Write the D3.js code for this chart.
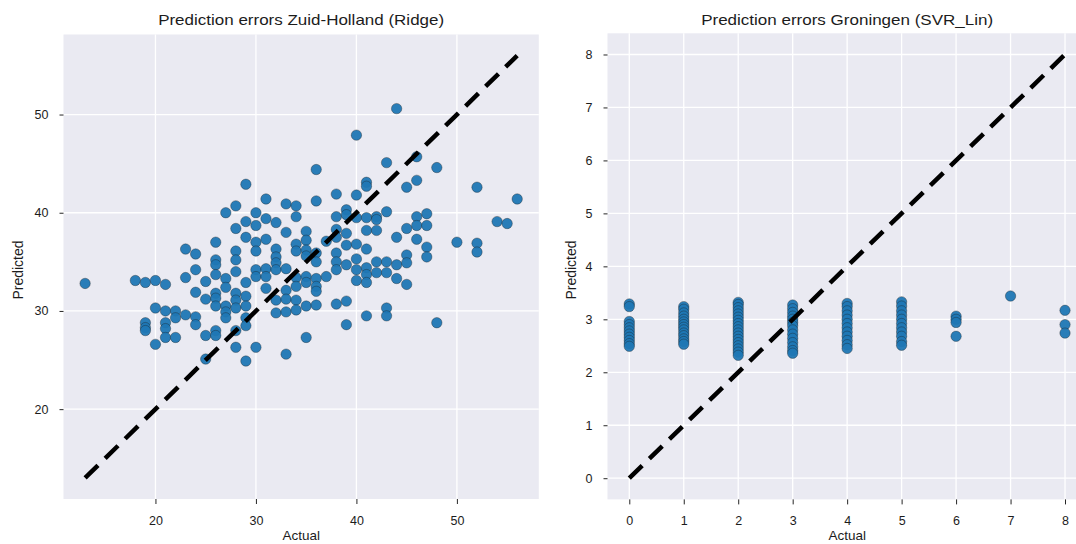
<!DOCTYPE html>
<html>
<head>
<meta charset="utf-8">
<script src="https://cdn.jsdelivr.net/npm/d3@7"></script>
<style>
  body { margin: 0; background: #fff; }
  text { font-family: "Liberation Sans", Arial, sans-serif; fill: #1c1c1c; }
</style>
</head>
<body>
<svg id="chart" width="1076" height="544"></svg>
<script>
// Zuid-Holland (Ridge): actual values and the predictions seen at each one
var zhActual = [13, 18, 19, 20, 21, 22, 23, 24, 25, 26, 27, 28, 29, 30, 31, 32, 33, 34,
                35, 36, 37, 38, 39, 40, 41, 42, 43, 44, 45, 46, 47, 48, 50, 52, 54, 55, 56];
var zhPredicted = [
  [32.8],
  [33.1],
  [32.9, 28.8, 28.3, 28.0],
  [33.1, 30.3, 26.6],
  [32.7, 30.0, 28.8, 28.2, 27.3],
  [30.0, 29.3, 27.3],
  [36.3, 33.4, 29.6],
  [35.8, 34.2, 31.9, 29.4, 28.6],
  [33.0, 31.2, 27.5, 25.1],
  [37.0, 35.2, 34.7, 33.7, 31.8, 31.3, 30.5, 28.0, 27.5],
  [40.0, 33.3, 32.4, 30.5, 29.9, 29.3],
  [40.7, 38.4, 36.1, 35.2, 34.0, 31.8, 31.1, 30.3, 28.0, 26.3],
  [42.9, 39.1, 37.5, 32.9, 31.5, 30.5, 29.3, 28.5, 24.9],
  [40.0, 38.7, 37.0, 36.1, 34.2, 33.5, 26.3],
  [41.4, 39.4, 37.3, 34.3, 33.5, 32.3],
  [39.0, 36.3, 35.5, 34.9, 34.2, 31.1, 29.8],
  [40.9, 38.0, 34.3, 32.1, 31.2, 29.9, 25.6],
  [40.7, 39.6, 36.8, 36.1, 33.4, 32.5, 31.1, 30.1],
  [38.1, 37.2, 36.2, 35.6, 33.5, 32.9, 30.5, 27.3],
  [44.4, 41.2, 35.9, 35.0, 33.3, 32.5, 32.0, 30.6],
  [37.1, 33.5],
  [41.9, 39.6, 38.3, 37.5, 35.9, 35.0, 34.2, 30.7],
  [40.3, 39.8, 37.9, 36.7, 34.7, 31.0, 28.6],
  [47.9, 41.8, 39.5, 36.8, 35.3, 34.2, 33.1],
  [43.1, 42.7, 39.5, 38.2, 36.3, 34.4, 33.7, 32.9, 29.5],
  [39.6, 39.3, 38.2, 35.0, 33.9],
  [45.1, 40.1, 35.0, 33.9, 30.3, 29.5],
  [50.6, 37.5, 34.7, 33.3],
  [42.6, 38.4, 35.7, 34.9, 32.7],
  [45.7, 43.3, 39.6, 38.7, 37.3],
  [39.9, 38.7, 36.5, 35.5],
  [44.6, 28.8],
  [37.0],
  [42.6, 36.9, 36.0],
  [39.1],
  [38.9],
  [41.4]
];
var zhTicks = [20, 30, 40, 50];

// Groningen (SVR_Lin)
var grActual = [0, 1, 2, 3, 4, 5, 6, 7, 8];
var grPredicted = [
  [3.29, 3.24, 2.96, 2.90, 2.84, 2.78, 2.72, 2.66, 2.60, 2.54, 2.49],
  [3.24, 3.19, 3.12, 3.06, 3.00, 2.95, 2.90, 2.85, 2.80, 2.74, 2.69, 2.63, 2.58, 2.53],
  [3.32, 3.28, 3.22, 3.16, 3.10, 3.04, 2.98, 2.92, 2.86, 2.80, 2.74, 2.68, 2.62, 2.56, 2.50, 2.44, 2.38, 2.32],
  [3.27, 3.20, 3.13, 3.06, 3.00, 2.94, 2.88, 2.80, 2.72, 2.64, 2.56, 2.48, 2.41, 2.36],
  [3.30, 3.24, 3.16, 3.08, 3.00, 2.92, 2.84, 2.76, 2.68, 2.60, 2.52, 2.45],
  [3.33, 3.25, 3.16, 3.08, 3.00, 2.92, 2.84, 2.76, 2.68, 2.58, 2.51],
  [3.06, 3.00, 2.94, 2.68],
  [3.44],
  [3.17, 2.90, 2.74]
];
var grTicks = [0, 1, 2, 3, 4, 5, 6, 7, 8];

var svg = d3.select("#chart");

function pairs(actual, predicted) {
  var out = [];
  actual.forEach(function(a, i) {
    predicted[i].forEach(function(p) { out.push({ a: a, p: p }); });
  });
  return out;
}

function panel(o) {
  var data = pairs(o.actual, o.predicted);
  var lo = d3.min(o.actual), hi = d3.max(o.actual);
  var pad = (hi - lo) * 0.05;

  var x = d3.scaleLinear().domain([lo - pad, hi + pad]).range(o.xr);
  var y = d3.scaleLinear().domain([lo - pad, hi + pad]).range(o.yr);

  var g = svg.append("g");

  g.append("rect")
      .attr("x", o.xr[0])
      .attr("y", o.yr[1])
      .attr("width", o.xr[1] - o.xr[0])
      .attr("height", o.yr[0] - o.yr[1])
      .attr("fill", "#eaeaf2");

  // grid
  g.selectAll(".gx").data(o.ticks).enter().append("line")
      .attr("x1", x).attr("x2", x)
      .attr("y1", o.yr[1]).attr("y2", o.yr[0])
      .attr("stroke", "#fff").attr("stroke-width", 1.3);
  g.selectAll(".gy").data(o.ticks).enter().append("line")
      .attr("y1", y).attr("y2", y)
      .attr("x1", o.xr[0]).attr("x2", o.xr[1])
      .attr("stroke", "#fff").attr("stroke-width", 1.3);

  var xAxis = g.append("g")
      .attr("transform", "translate(0," + o.yr[0] + ")")
      .call(d3.axisBottom(x).tickValues(o.ticks).tickSize(5).tickPadding(12).tickFormat(d3.format("d")));
  var yAxis = g.append("g")
      .attr("transform", "translate(" + o.xr[0] + ",0)")
      .call(d3.axisLeft(y).tickValues(o.ticks).tickSize(4).tickPadding(11).tickFormat(d3.format("d")));

  [xAxis, yAxis].forEach(function(ax) {
    ax.select(".domain").remove();
    ax.selectAll("line").attr("stroke", "#262626");
    ax.selectAll("text")
        .attr("fill", "#1c1c1c")
        .style("font-size", "12.5px")
        .style("font-family", "'Liberation Sans', Arial, sans-serif");
  });

  g.selectAll("circle").data(data).enter().append("circle")
      .attr("cx", function(d) { return x(d.a); })
      .attr("cy", function(d) { return y(d.p); })
      .attr("r", 5.2)
      .attr("fill", "#1f77b4")
      .attr("fill-opacity", 0.95)
      .attr("stroke", "#1a1a1a")
      .attr("stroke-opacity", 0.5)
      .attr("stroke-width", 0.7);

  // perfect prediction line
  g.append("line")
      .attr("x1", x(lo)).attr("y1", y(lo))
      .attr("x2", x(hi)).attr("y2", y(hi))
      .attr("stroke", "#000")
      .attr("stroke-width", 4.5)
      .attr("stroke-dasharray", "18,10");

  var cx = (o.xr[0] + o.xr[1]) / 2;

  g.append("text")
      .attr("x", cx)
      .attr("y", 25)
      .attr("text-anchor", "middle")
      .attr("textLength", o.titleWidth)
      .attr("lengthAdjust", "spacingAndGlyphs")
      .style("font-size", "15px")
      .text(o.title);

  g.append("text")
      .attr("x", cx)
      .attr("y", 540)
      .attr("text-anchor", "middle")
      .style("font-size", "13.5px")
      .text("Actual");

  g.append("text")
      .attr("transform", "translate(" + o.labelX + ",270) rotate(-90)")
      .attr("text-anchor", "middle")
      .style("font-size", "14px")
      .text("Predicted");
}

panel({
  actual: zhActual,
  predicted: zhPredicted,
  ticks: zhTicks,
  xr: [63.5, 538.8],
  yr: [499, 34.5],
  title: "Prediction errors Zuid-Holland (Ridge)",
  titleWidth: 286,
  labelX: 23
});

panel({
  actual: grActual,
  predicted: grPredicted,
  ticks: grTicks,
  xr: [607.5, 1086.8],
  yr: [499.4, 33.3],
  title: "Prediction errors Groningen (SVR_Lin)",
  titleWidth: 292,
  labelX: 576
});
</script>
</body>
</html>
